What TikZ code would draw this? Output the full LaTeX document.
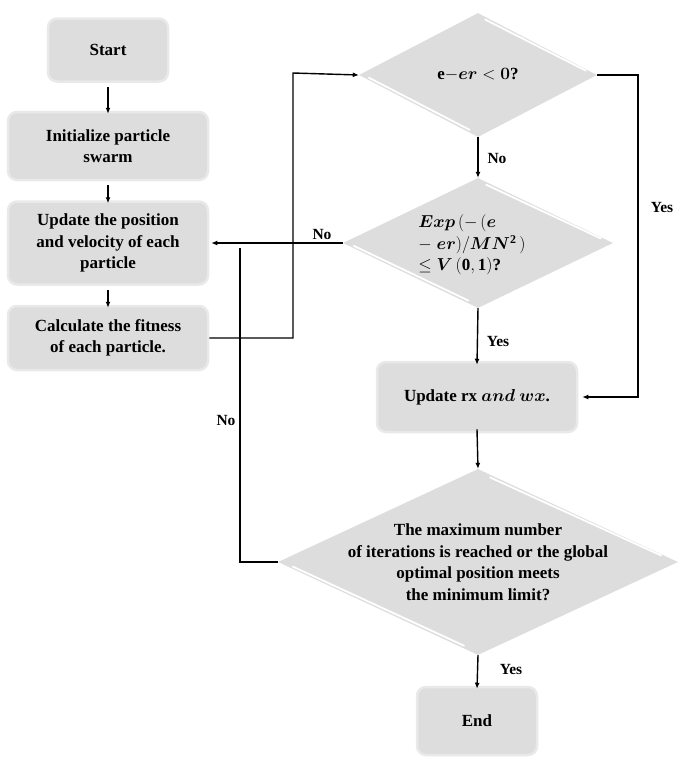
\documentclass[tikz,border=0pt]{standalone}
\usepackage{fontspec}
\usepackage{amsmath,bm}
\setmainfont{Liberation Serif}
\usetikzlibrary{shapes.geometric,arrows.meta,calc}
\definecolor{boxfill}{RGB}{221,221,221}
\definecolor{boxedge}{RGB}{233,233,233}
\tikzset{
  stepbox/.style={rectangle, rounded corners=9pt, fill=boxfill, draw=boxedge, line width=2.5pt, inner sep=0pt},
  dia/.style={diamond, fill=boxfill, draw=none, inner sep=0pt},
  hilite/.style={white, line width=1.8pt, line cap=round},
  txt/.style={font=\fontsize{17}{21.5}\selectfont\bfseries, align=center, text=black},
  lab/.style={font=\fontsize{15.5}{18}\selectfont\bfseries, text=black},
  conn/.style={line width=1.4pt, -{Latex[length=6pt,width=5pt]}},
  plain/.style={line width=1.4pt}
}
\begin{document}
\begin{tikzpicture}[x=1pt,y=-1pt]
\useasboundingbox (0,0) rectangle (685,764);
% left column boxes
\node[stepbox, minimum width=120pt, minimum height=63pt] (start) at (108,50) {};
\node[txt] (starttxt) at (start) {Start};
\node[stepbox, minimum width=200pt, minimum height=68pt] (init) at (108,146) {};
\node[txt] (inittxt) at (init) {Initialize particle\\swarm};
\node[stepbox, minimum width=200pt, minimum height=83pt] (upd) at (108,243) {};
\node[txt] (updtxt) at (upd) {Update the position\\and velocity of each\\particle};
\node[stepbox, minimum width=200pt, minimum height=64pt] (calc) at (108,338) {};
\node[txt] (calctxt) at (calc) {Calculate the fitness\\of each particle.};
% diamonds
\node[dia, minimum width=238pt, minimum height=124pt] (d1) at (478,75) {};
\node[dia, minimum width=270pt, minimum height=130pt] (d2) at (478,243) {};
\node[dia, minimum width=400pt, minimum height=186pt] (d3) at (478,562) {};
\foreach \d in {d1,d2,d3}{
  \draw[hilite] ($(\d.north)!0.06!(\d.east)+(0,3)$) -- ($(\d.north)!0.93!(\d.east)+(-3,0)$);
  \draw[hilite] ($(\d.west)!0.06!(\d.south)+(3,-1)$) -- ($(\d.west)!0.93!(\d.south)+(0,-3)$);
}
\node[txt] (d1txt) at (d1) {e$-\bm{er}<\bm{0}$?};
\node[txt, align=left] (d2txt) at (472,245) {$\bm{Exp}\,(-\,(\bm{e}$\\$-\;\bm{er})/\bm{MN}^{\mathbf{2}}\,)$\\$\leq\bm{V}\,(\mathbf{0},\mathbf{1})$?};
\node[stepbox, minimum width=200pt, minimum height=70pt] (rx) at (477,397) {};
\node[txt] (rxtxt) at (rx) {Update rx $\bm{and}\ \bm{wx}$.};
\node[txt] (d3txt) at (d3) {The maximum number\\of iterations is reached or the global\\optimal position meets\\the minimum limit?};
\node[stepbox, minimum width=120pt, minimum height=68pt] (endb) at (477,721) {};
\node[txt] (endtxt) at (endb) {End};
% connectors
\draw[conn] (start.south) ++(0,4) -- ([yshift=-3pt]init.north);
\draw[conn] (init.south) ++(0,4) -- ([yshift=-3pt]upd.north);
\draw[conn] (upd.south) ++(0,4) -- ([yshift=-3pt]calc.north);
\coordinate (c1) at (293,338);
\coordinate (c2) at (293,73);
\draw[conn] (calc.east) -- (c1) -- (c2) -- (d1.west);
\coordinate (y1) at (638,75);
\coordinate (y2) at (638,397);
\draw[conn] (d1.east) -- (y1) -- (y2) -- ([xshift=4pt]rx.east);
\node[lab] (yes1) at (662,207) {Yes};
\draw[conn] (d1.south) -- (d2.north);
\node[lab] (no1) at (497,158) {No};
\draw[conn] (d2.west) -- ([xshift=2pt]upd.east);
\node[lab] (no2) at (322,234) {No};
\draw[conn] (d2.south) -- ([yshift=-4pt]rx.north);
\node[lab] (yes2) at (498,341) {Yes};
\draw[conn] ([yshift=4pt]rx.south) -- (d3.north);
\coordinate (n1) at (240,562);
\coordinate (n2) at (240,248);
\draw[plain] (d3.west) -- (n1) -- (n2);
\node[lab] (no3) at (226,420) {No};
\draw[conn] (d3.south) -- ([yshift=-3pt]endb.north);
\node[lab] (yes3) at (511,669) {Yes};
\end{tikzpicture}
\end{document}
